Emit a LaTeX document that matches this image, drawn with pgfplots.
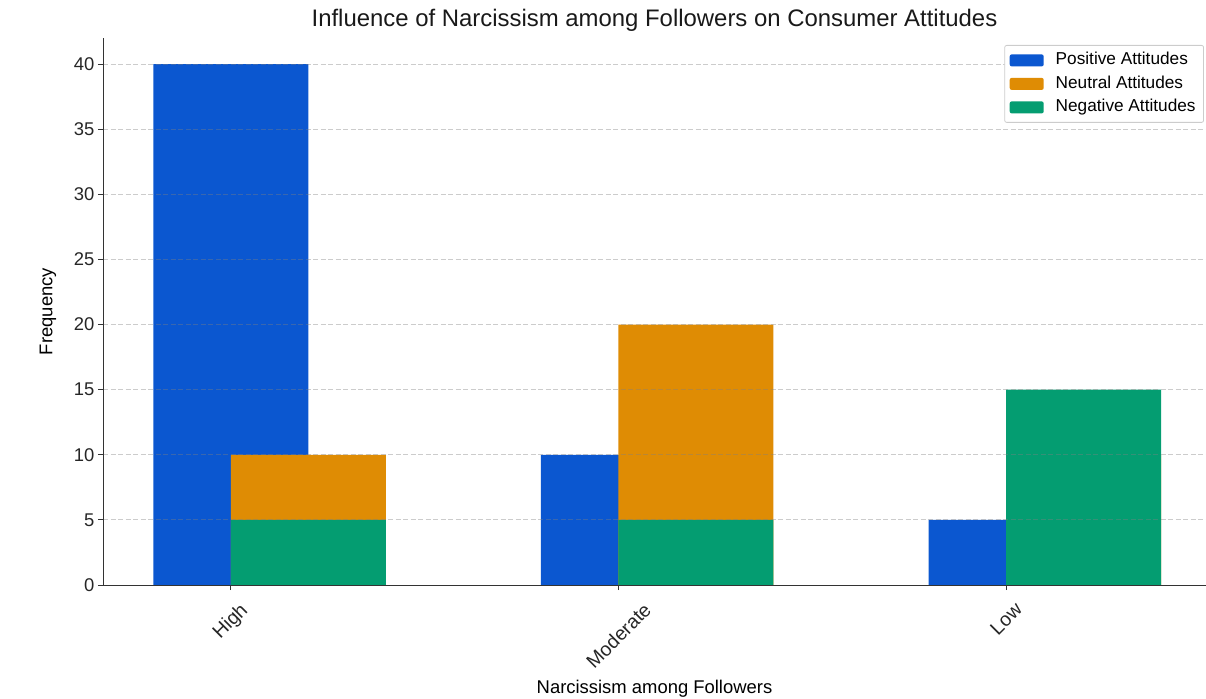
\documentclass[border=0pt]{standalone}
\usepackage{fontspec}
\setmainfont{Liberation Sans}
\usepackage{graphicx}
\usepackage{pgfplots}
\pgfplotsset{compat=1.18}
\definecolor{cpos}{HTML}{0B57D0}
\definecolor{cneu}{HTML}{DF8C04}
\definecolor{cneg}{HTML}{049D71}
\definecolor{spine}{HTML}{333333}
\begin{document}
\begin{tikzpicture}
\useasboundingbox (0,0) rectangle (1206bp,699bp);
\begin{axis}[
  at={(103bp,114bp)}, anchor=south west,
  scale only axis, width=1103bp, height=547bp,
  xmin=-0.33, xmax=2.516, ymin=0, ymax=42,
  axis x line*=bottom, axis y line*=left,
  axis line style={spine, line width=0.9bp, -},
  xtick={0,1,2},
  xticklabels={{\rotatebox{45}{High}},{\rotatebox{45}{Moderate}},{\rotatebox{45}{Low}}},
  ytick={0,5,...,40},
  tick align=outside, major tick length=5bp,
  tick style={spine, line width=0.9bp},
  ymajorgrids, grid style={gray, opacity=0.4, dash pattern=on 5bp off 2.5bp, line width=0.9bp},
  axis on top,
  /pgf/number format/assume math mode=true,
  ticklabel style={font=\fontsize{18.5}{22}\selectfont, text=black!85},
  xticklabel style={font=\fontsize{19.5}{23}\selectfont, yshift=-8bp},
  every axis title shift=0pt,
  title={Influence of Narcissism among Followers on Consumer Attitudes},
  title style={at={(axis description cs:0.5,1.033)}, anchor=center, font=\fontsize{24}{28}\selectfont, text=black!90},
  xlabel={Narcissism among Followers},
  xlabel style={at={(axis description cs:0.5,-0.19)}, anchor=center, font=\fontsize{18.5}{22}\selectfont},
  ylabel={Frequency},
  ylabel style={at={(axis description cs:-0.05,0.5)}, anchor=center, font=\fontsize{18.5}{22}\selectfont},
  legend cell align=left,
  legend style={at={(1,1)}, anchor=north east, xshift=-2bp, yshift=-7bp,
    draw=black!20, rounded corners=2bp, line width=0.8bp,
    font=\fontsize{17.3}{20}\selectfont,
    inner xsep=5bp, inner ysep=4.5bp, row sep=2.5bp,
    nodes={inner sep=3bp, text height=12bp, text depth=3bp}},
  legend image code/.code={\path[#1, draw=none] (0bp,-6bp) rectangle (34bp,6bp); \path (43bp,0bp);},
]
\addplot[ybar, bar width=0.4, bar shift=0pt, fill=cpos, draw=none] coordinates {(0,40) (1,10) (2,5)};
\addlegendentry{Positive Attitudes}
\addplot[ybar, bar width=0.4, bar shift=0.2, fill=cneu, draw=none] coordinates {(0,10) (1,20) (2,10)};
\addlegendentry{Neutral Attitudes}
\addplot[ybar, bar width=0.4, bar shift=0.2, fill=cneg, draw=none] coordinates {(0,5) (1,5) (2,15)};
\addlegendentry{Negative Attitudes}
\end{axis}
\end{tikzpicture}
\end{document}
